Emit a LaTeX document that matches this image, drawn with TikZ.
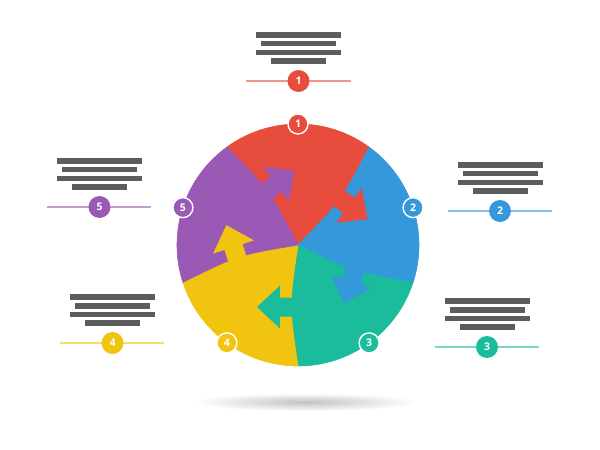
\documentclass[tikz,border=0pt]{standalone}
\usepackage{fontspec}
\setmainfont{Open Sans}
\usetikzlibrary{calc}
\definecolor{cred}{HTML}{E74C3C}
\definecolor{cblue}{HTML}{3498DB}
\definecolor{cgreen}{HTML}{1ABC9C}
\definecolor{cyellow}{HTML}{F1C40F}
\definecolor{cpurple}{HTML}{9B59B6}
\definecolor{barcol}{HTML}{5C5C5C}
\tikzset{
  ringbadge/.style={circle, draw=white, line width=1.4pt, minimum size=20pt, inner sep=0pt,
    text=white, font=\bfseries\fontsize{10.5}{10.5}\selectfont},
  blockbadge/.style={circle, minimum size=22pt, inner sep=0pt,
    text=white, font=\bfseries\fontsize{10.5}{10.5}\selectfont},
  barfill/.style={fill=barcol},
  blockline/.style={line width=1.2pt}
}
\begin{document}
\begin{tikzpicture}[x=1pt,y=1pt]
\useasboundingbox (-298,-205) rectangle (302,245);
\fill[white] (-298,-205) rectangle (302,245);
% shadow
\shade[inner color=black!24, outer color=white] (8,-157) ellipse[x radius=112, y radius=9];
% segments
\foreach \ang/\col in {90/cred, 18/cblue, -54/cgreen, -126/cyellow, 162/cpurple}{
  \pgfmathsetmacro\ta{\ang-36}
  \pgfmathsetmacro\tb{\ang+36}
  \filldraw[fill=\col, draw=\col, line width=0.6pt, line join=round] (0,0) .. controls ($(\ta:60.5)+(\ta-90:9)$) .. (\ta:121)
     arc[start angle=\ta, end angle=\tb, radius=121]
     .. controls ($(\tb:60.5)+(\tb-90:9)$) .. (0,0) -- cycle;
}
% arrows
\foreach \ang/\col in {90/cred, 18/cblue, -54/cgreen, -126/cyellow, 162/cpurple}{
  \pgfmathsetmacro\ta{\ang-36}
  \begin{scope}[shift={(\ta:62)}, rotate=\ta-90]
    \fill[\col] (-5,-9.5) -- (18,-9.5) -- (18,-21.5) -- (41,0) -- (18,21.5) -- (18,9.5) -- (-5,9.5) -- cycle;
  \end{scope}
}
% badges on the circle
\foreach \n/\ang/\col in {1/90/cred, 2/18/cblue, 3/-54/cgreen, 4/-126/cyellow, 5/162/cpurple}{
  \node[ringbadge, fill=\col] (c\n) at (\ang:121) {\n};
}
% text blocks
\foreach \n/\x/\y/\col in {1/0.5/164/cred, 2/202/34/cblue, 3/189/-102/cgreen, 4/-185.5/-98/cyellow, 5/-198.5/38/cpurple}{
  \fill[barfill] (\x-42.5,\y+43.2) rectangle (\x+42.5,\y+48.8);
  \fill[barfill] (\x-37.5,\y+34.5) rectangle (\x+37.5,\y+40.1);
  \fill[barfill] (\x-42.5,\y+25.8) rectangle (\x+42.5,\y+31.4);
  \fill[barfill] (\x-27.5,\y+17.2) rectangle (\x+27.5,\y+22.8);
  \coordinate (l\n) at (\x-52,\y);
  \coordinate (r\n) at (\x+52,\y);
  \draw[blockline, \col!60] (l\n) -- (r\n);
  \node[blockbadge, fill=\col] (t\n) at (\x,\y) {\n};
}
\end{tikzpicture}
\end{document}
